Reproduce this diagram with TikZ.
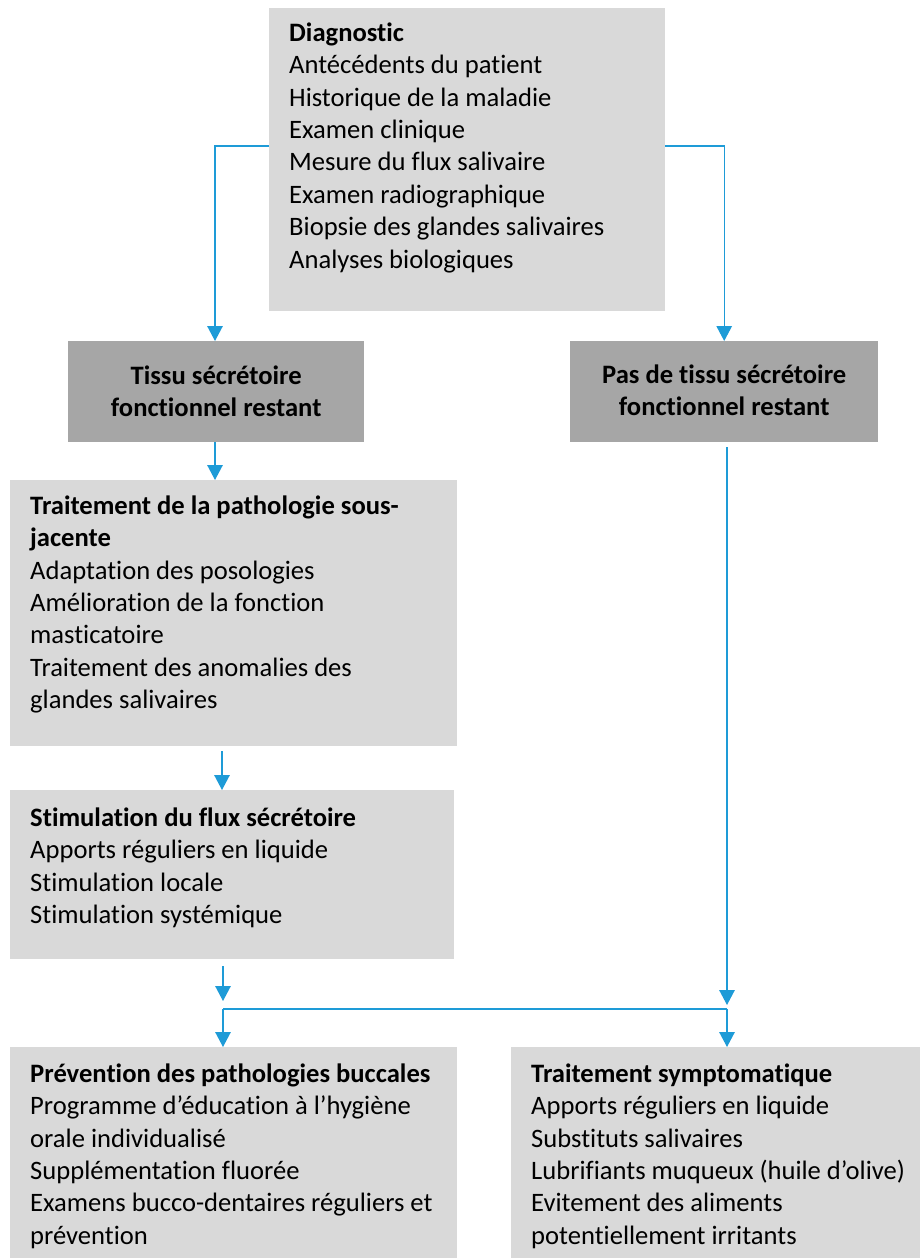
\documentclass[tikz,border=0pt]{standalone}
\usepackage{fontspec}
\setmainfont{Carlito}[Ligatures=NoCommon]
\usetikzlibrary{arrows.meta,calc}
\definecolor{boxlight}{RGB}{217,217,217}
\definecolor{boxdark}{RGB}{166,166,166}
\definecolor{arrowblue}{RGB}{30,155,215}
\newcommand{\mylbox}[4]{\parbox[b][#2][t]{#1}{\raggedright\leftskip=20pt\rule{0pt}{#3}#4}}
\newcommand{\mycbox}[4]{\parbox[b][#2][t]{#1}{\centering\bfseries\rule{0pt}{#3}#4}}
\begin{document}
\begin{tikzpicture}[x=1pt,y=-1pt,
  lbox/.style={fill=boxlight, inner sep=0pt, anchor=north west, font=\fontsize{26.6pt}{32.4pt}\selectfont},
  dbox/.style={fill=boxdark, inner sep=0pt, anchor=north west, font=\fontsize{26.6pt}{32.4pt}\selectfont},
  arr/.style={draw=arrowblue, line width=1.4pt, -{Triangle[width=15.5pt,length=15pt]}},
  conn/.style={draw=arrowblue, line width=1.4pt}]
\useasboundingbox (0,0) rectangle (920,1258);

\node[lbox] (diag) at (269,8) {\mylbox{396pt}{303pt}{33pt}{\textbf{Diagnostic}\\Antécédents du patient\\Historique de la maladie\\Examen clinique\\Mesure du flux salivaire\\Examen radiographique\\Biopsie des glandes salivaires\\Analyses biologiques}};

\node[dbox] (tissu) at (68,341) {\mycbox{296pt}{101pt}{43pt}{Tissu sécrétoire\\fonctionnel restant}};
\node[dbox] (pas) at (570,341) {\mycbox{308pt}{101pt}{42pt}{Pas de tissu sécrétoire\\fonctionnel restant}};

\node[lbox] (trait) at (10,480) {\mylbox{447pt}{266pt}{34pt}{\textbf{Traitement de la pathologie sous-}\\\textbf{jacente}\\Adaptation des posologies\\Amélioration de la fonction\\masticatoire\\Traitement des anomalies des\\glandes salivaires}};

\node[lbox] (stim) at (10,790) {\mylbox{444pt}{169pt}{36pt}{\textbf{Stimulation du flux sécrétoire}\\Apports réguliers en liquide\\Stimulation locale\\Stimulation systémique}};

\node[lbox] (prev) at (10,1047) {\mylbox{447pt}{211pt}{35pt}{\textbf{Prévention des pathologies buccales}\\Programme d’éducation à l’hygiène\\orale individualisé\\Supplémentation fluorée\\Examens bucco-dentaires réguliers et\\prévention}};

\node[lbox] (symp) at (511,1047) {\mylbox{409pt}{211pt}{35pt}{\textbf{Traitement symptomatique}\\Apports réguliers en liquide\\Substituts salivaires\\Lubrifiants muqueux (huile d’olive)\\Evitement des aliments\\potentiellement irritants}};

\coordinate (jl) at (223,1009);
\coordinate (jr) at (727,1009);

\draw[arr] ($(diag.north west)+(0,138)$) -| ($(tissu.north west)+(147,0)$);
\draw[arr] ($(diag.north east)+(0,138)$) -| (pas.north);
\draw[arr] ($(tissu.south west)+(147,0)$) -- ($(trait.north west)+(205,0)$);
\draw[arr, shorten <=5pt] ($(trait.south west)+(212,0)$) -- ($(stim.north west)+(212,0)$);
\draw[arr, shorten <=7pt, shorten >=8pt] ($(stim.south west)+(213,0)$) -- (jl);
\draw[arr, shorten <=5pt, shorten >=4pt] ($(pas.south west)+(157,0)$) -- (jr);
\draw[conn] (jl) -- (jr);
\draw[arr] (jl) -- (jl |- prev.north);
\draw[arr] (jr) -- (jr |- symp.north);
\end{tikzpicture}
\end{document}
